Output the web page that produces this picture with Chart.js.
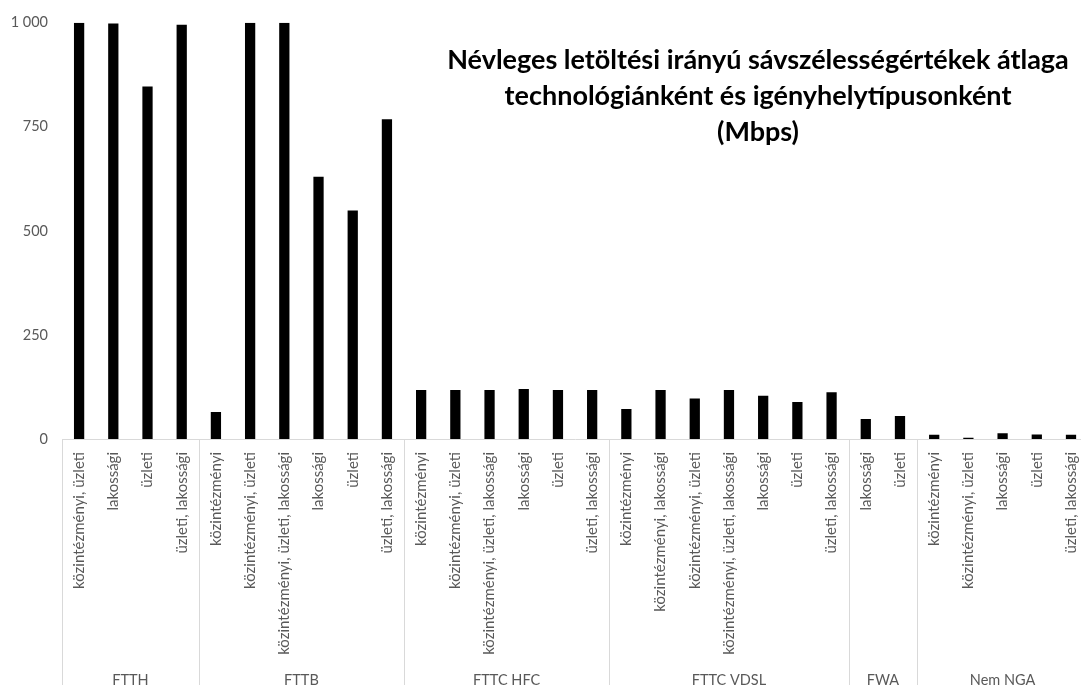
<!DOCTYPE html>
<html lang="hu">
<head>
<meta charset="utf-8">
<title>Névleges letöltési sávszélesség</title>
<script src="https://cdn.jsdelivr.net/npm/chart.js@4/dist/chart.umd.min.js"></script>
<style>
    html, body { margin: 0; padding: 0; overflow: hidden; background: #fff; }
    #wrap { width: 1102px; height: 685px; position: relative; }
</style>
</head>
<body>
<div id="wrap"><canvas id="bwChart"></canvas></div>
<script>
// technology groups and the premise types under each one
const groupNames = ['FTTH', 'FTTB', 'FTTC HFC', 'FTTC VDSL', 'FWA', 'Nem NGA'];
const groupLabels = [
    ['közintézményi, üzleti', 'lakossági', 'üzleti', 'üzleti, lakossági'],
    ['közintézményi', 'közintézményi, üzleti', 'közintézményi, üzleti, lakossági', 'lakossági', 'üzleti', 'üzleti, lakossági'],
    ['közintézményi', 'közintézményi, üzleti', 'közintézményi, üzleti, lakossági', 'lakossági', 'üzleti', 'üzleti, lakossági'],
    ['közintézményi', 'közintézményi, lakossági', 'közintézményi, üzleti', 'közintézményi, üzleti, lakossági', 'lakossági', 'üzleti', 'üzleti, lakossági'],
    ['lakossági', 'üzleti'],
    ['közintézményi', 'közintézményi, üzleti', 'lakossági', 'üzleti', 'üzleti, lakossági']
];
// average nominal download bandwidth, Mbps
const ftthValues = [1000, 998, 847, 995];
const fttbValues = [65, 1000, 1000, 630, 549, 768];
const hfcValues = [118, 118, 118, 120, 118, 118];
const vdslValues = [72, 118, 97, 118, 104, 89, 112];
const fwaValues = [48, 55];
const nemNgaValues = [10, 3, 14, 11, 10];
const yTicks = [0, 250, 500, 750, 1000];

const titleLines = [
    'Névleges letöltési irányú sávszélességértékek átlaga',
    'technológiánként és igényhelytípusonként',
    '(Mbps)'
];

const labels = groupLabels.flat();
const values = [ftthValues, fttbValues, hfcValues, vdslValues, fwaValues, nemNgaValues].flat();

const textGray = '#595959';
const lineGray = '#d9d9d9';
const labelFont = 'Lato, "Open Sans", sans-serif';

function fmtThousands(v) {
    return String(v).replace(/\B(?=(\d{3})+(?!\d))/g, ' ');
}

// second row of the x axis: group names with vertical separators
const groupAxisPlugin = {
    id: 'groupAxis',
    afterDraw(chart) {
        const ctx = chart.ctx;
        const x = chart.scales.x;
        const area = chart.chartArea;
        const bottom = chart.height;
        const step = labels.length > 1 ? x.getPixelForValue(1) - x.getPixelForValue(0) : 0;

        ctx.save();
        ctx.strokeStyle = lineGray;
        ctx.lineWidth = 1;
        ctx.fillStyle = textGray;
        ctx.font = '14.5px ' + labelFont;
        ctx.textAlign = 'center';
        ctx.textBaseline = 'top';

        let start = 0;
        groupLabels.forEach((grp, gi) => {
            const end = start + grp.length - 1;
            const left = x.getPixelForValue(start) - step / 2;
            const right = x.getPixelForValue(end) + step / 2;
            [left, right].forEach(px => {
                const sx = Math.round(px) + 0.5;
                ctx.beginPath();
                ctx.moveTo(sx, area.bottom);
                ctx.lineTo(sx, bottom);
                ctx.stroke();
            });
            ctx.fillText(groupNames[gi], (left + right) / 2, 673);
            start = end + 1;
        });
        ctx.restore();
    }
};

// title drawn inside the plot area, upper right
const innerTitlePlugin = {
    id: 'innerTitle',
    afterDraw(chart) {
        const ctx = chart.ctx;
        ctx.save();
        ctx.fillStyle = '#000';
        ctx.font = 'bold 27px ' + labelFont;
        ctx.textAlign = 'center';
        ctx.textBaseline = 'middle';
        titleLines.forEach((line, i) => {
            ctx.fillText(line, 758, 60 + i * 36);
        });
        ctx.restore();
    }
};

new Chart(document.getElementById('bwChart').getContext('2d'), {
    type: 'bar',
    data: {
        labels,
        datasets: [{
            label: 'Mbps',
            data: values,
            backgroundColor: '#000',
            borderWidth: 0,
            barPercentage: 0.3,
            categoryPercentage: 1
        }]
    },
    options: {
        responsive: true,
        maintainAspectRatio: false,
        animation: false,
        layout: { padding: { top: 21, left: 0, right: 0, bottom: 0 } },
        plugins: {
            legend: { display: false },
            title: { display: false },
            tooltip: { enabled: false }
        },
        scales: {
            x: {
                grid: { display: false, drawTicks: false },
                border: { display: true, color: lineGray, width: 1 },
                ticks: {
                    autoSkip: false,
                    maxRotation: 90,
                    minRotation: 90,
                    padding: 13,
                    color: textGray,
                    font: { family: labelFont, size: 15 }
                },
                afterFit(scale) { scale.height = 246; }
            },
            y: {
                min: 0,
                max: 1000,
                grid: { display: false, drawTicks: false },
                border: { display: false },
                afterBuildTicks(scale) { scale.ticks = yTicks.map(v => ({ value: v })); },
                ticks: {
                    padding: 14,
                    color: textGray,
                    font: { family: labelFont, size: 14.5 },
                    callback: v => fmtThousands(v)
                },
                afterFit(scale) { scale.width = 62; }
            }
        }
    },
    plugins: [groupAxisPlugin, innerTitlePlugin]
});
</script>
</body>
</html>
